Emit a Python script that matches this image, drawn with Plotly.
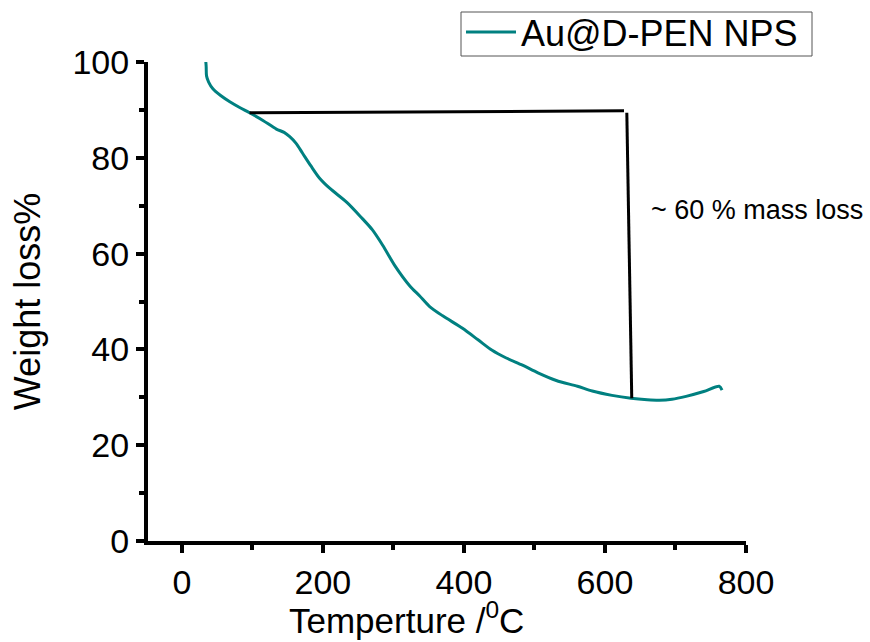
import plotly.graph_objects as go

# TGA curve: temperature (°C) and remaining weight (%)
temperature = [34, 34.5, 35, 38, 44, 55, 68, 82, 96, 115, 134, 145, 153, 162, 171, 183, 195, 210,
               234, 256, 270, 285, 302, 323, 337, 351, 370, 398, 420, 440, 460, 483,
               505, 531, 561, 582, 610, 637, 660, 677, 695, 715, 740, 762, 766]
weight = [100, 99, 97.1, 95.8, 94.4, 93, 91.7, 90.5, 89.4, 87.8, 86, 85.3, 84.4, 83.0, 81.0, 78.3, 75.8, 73.6,
          70.7, 67.3, 65, 61.7, 57.5, 53.3, 51.2, 49, 47, 44.4, 42, 39.8, 38.2, 36.7,
          35.1, 33.5, 32.3, 31.3, 30.4, 29.8, 29.5, 29.4, 29.6, 30.2, 31.2, 32.3, 31.5]

# mass-loss bracket (horizontal + vertical guide)
bracket_T = [96, 627, None, 631, 638]
bracket_W = [89.4, 89.8, None, 89.4, 29.8]

label_T = 663
label_W = 69
label_text = "~ 60 % mass loss"

series_name = "Au@D-PEN NPS"
x_ticks = [0, 200, 400, 600, 800]
y_ticks = [0, 20, 40, 60, 80, 100]

FONT = "Liberation Sans, Arial, sans-serif"
TEAL = "#008080"
W_PX, H_PX = 870, 642

# plot-area geometry in pixels (for paper-coordinate placement of legend box / title)
PX_L, PX_R, PX_T, PX_B = 148, 746, 62, 541


def px_to_paper_x(px):
    return (px - PX_L) / (PX_R - PX_L)


def px_to_paper_y(py):
    return (PX_B - py) / (PX_B - PX_T)


fig = go.Figure()
fig.add_trace(go.Scatter(x=temperature, y=weight, mode="lines", name=series_name,
                         line=dict(color=TEAL, width=3, shape="spline", smoothing=0.8)))
fig.add_trace(go.Scatter(x=bracket_T, y=bracket_W, mode="lines", showlegend=False,
                         line=dict(color="black", width=3), hoverinfo="skip"))

fig.add_annotation(x=label_T, y=label_W, text=label_text, showarrow=False,
                   xanchor="left", yanchor="middle",
                   font=dict(family=FONT, size=27, color="black"))

# x-axis title (offset left of the axis centre as in the original)
fig.add_annotation(xref="paper", yref="paper", x=px_to_paper_x(406), y=px_to_paper_y(618),
                   text="Temperture /<sup>0</sup>C", showarrow=False,
                   xanchor="center", yanchor="middle", borderpad=0,
                   font=dict(family=FONT, size=35, color="black"))

# legend frame
fig.add_shape(type="rect", xref="paper", yref="paper",
              x0=px_to_paper_x(461), x1=px_to_paper_x(812),
              y0=px_to_paper_y(56), y1=px_to_paper_y(12),
              line=dict(color="#555555", width=1), fillcolor="rgba(0,0,0,0)")

axis_common = dict(showline=True, linecolor="black", linewidth=4, ticks="outside",
                   ticklen=8, tickwidth=4, tickcolor="black", showgrid=False,
                   zeroline=False, mirror=False,
                   tickfont=dict(family=FONT, size=34, color="black"))

fig.update_xaxes(range=[-48, 800], tickvals=x_ticks,
                 minor=dict(ticks="outside", dtick=100, tick0=0, ticklen=5, tickwidth=4,
                            tickcolor="black"),
                 **axis_common)
fig.update_yaxes(range=[0, 100], tickvals=y_ticks,
                 minor=dict(ticks="outside", dtick=10, tick0=0, ticklen=5, tickwidth=4,
                            tickcolor="black"),
                 title=dict(text="Weight loss%", standoff=22,
                            font=dict(family=FONT, size=36, color="black")),
                 **axis_common)

fig.update_layout(
    width=W_PX, height=H_PX,
    margin=dict(l=PX_L, r=W_PX - PX_R, t=PX_T, b=H_PX - PX_B, autoexpand=False),
    paper_bgcolor="white", plot_bgcolor="white",
    font=dict(family=FONT, color="black"),
    showlegend=True,
    legend=dict(xref="container", yref="container",
                x=461 / W_PX, y=1 - 2 / H_PX, xanchor="left", yanchor="top",
                borderwidth=0, bgcolor="rgba(0,0,0,0)",
                font=dict(family=FONT, size=36, color="black"),
                itemwidth=50, tracegroupgap=0),
)

fig.write_html("out.html")
